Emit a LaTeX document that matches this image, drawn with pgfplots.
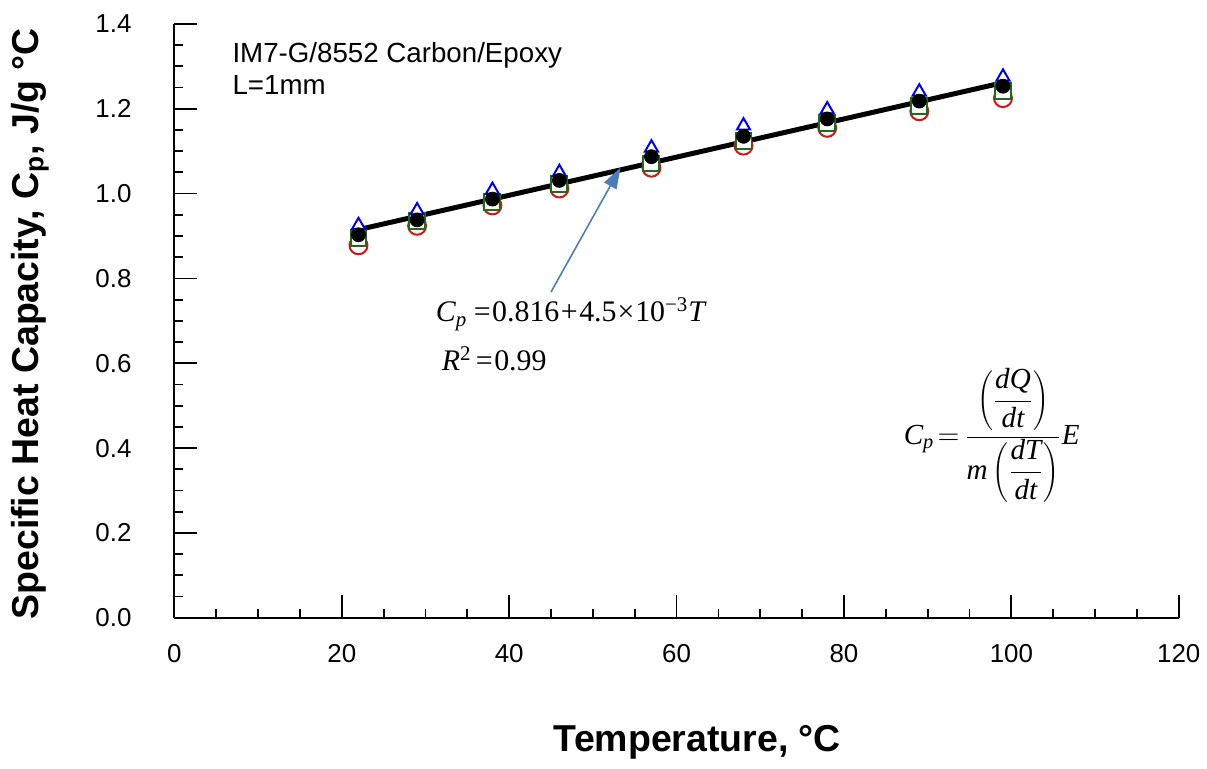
\documentclass[border=0pt]{standalone}
\usepackage{fontspec}
\setmainfont{Liberation Sans}
\newfontfamily\tnr{Liberation Serif}
\usepackage{pgfplots}
\pgfplotsset{compat=1.18}
\usetikzlibrary{arrows.meta}
\definecolor{arrowblue}{HTML}{4A7EBB}
\definecolor{mkgreen}{HTML}{1E6B1E}
\definecolor{mkred}{HTML}{E01010}
\definecolor{mkblue}{HTML}{0000F0}
\begin{document}
\begin{tikzpicture}
\begin{axis}[
  at={(0,0)}, anchor=south west,
  scale only axis, width=504pt, height=298pt,
  xmin=0, xmax=120, ymin=0, ymax=1.4,
  axis x line*=bottom, axis y line*=left,
  axis line style={line width=1pt},
  xtick={0,20,40,60,80,100,120}, minor x tick num=3,
  ytick={0,0.2,0.4,0.6,0.8,1.0,1.2,1.4}, minor y tick num=3,
  tick align=inside,
  major tick length=11.5pt, minor tick length=4.5pt,
  every tick/.style={black, line width=0.9pt},
  tick label style={font=\fontsize{13}{15}\selectfont},
  /pgf/number format/assume math mode=true,
  yticklabel style={/pgf/number format/.cd, fixed, fixed zerofill, precision=1, /tikz/.cd, xshift=-18pt},
  xticklabel style={yshift=-10pt},
  xlabel={Temperature, °C},
  ylabel={Specific Heat Capacity, C\textsubscript{p}, J/g °C},
  xlabel style={font=\fontsize{18.8}{21}\selectfont\bfseries, at={(axis description cs:0.5208,-0.21)}, anchor=center},
  ylabel style={font=\fontsize{18.8}{21}\selectfont\bfseries, at={(axis description cs:-0.1439,0.495)}, anchor=center},
  clip=false,
]
\addplot[only marks, mark=o, mark size=4.5pt, mark options={draw=mkred, line width=1pt}]
  coordinates {(22,0.878) (29,0.924) (38,0.972) (46,1.012) (57,1.061) (68,1.113) (78,1.155) (89,1.194) (99,1.225)};
\addplot[only marks, mark=square*, mark size=4pt, mark options={draw=mkgreen, fill=white, line width=1pt}]
  coordinates {(22,0.895) (29,0.935) (38,0.980) (46,1.022) (57,1.071) (68,1.124) (78,1.167) (89,1.206) (99,1.241)};
\addplot[only marks, mark=triangle*, mark size=3.8pt, mark options={draw=mkblue, fill=white, line width=1pt}]
  coordinates {(22,0.925) (29,0.960) (38,1.008) (46,1.050) (57,1.108) (68,1.160) (78,1.198) (89,1.240) (99,1.275)};
\addplot[black, line width=2.5pt, no marks] coordinates {(22,0.915) (99,1.2615)};
\addplot[only marks, mark=*, mark size=3.5pt, mark options={draw=black, fill=black}]
  coordinates {(22,0.903) (29,0.938) (38,0.987) (46,1.031) (57,1.087) (68,1.135) (78,1.176) (89,1.218) (99,1.253)};
\draw[arrowblue, line width=0.8pt, -{Triangle[length=10.5pt, width=7pt]}] (axis cs:45.0,0.768) -- (axis cs:53.3,1.061);
\node[anchor=base west, inner sep=0pt, font=\fontsize{13.9}{15}\selectfont] at (axis cs:6.9,1.308) {IM7-G/8552 Carbon/Epoxy};
\node[anchor=base west, inner sep=0pt, font=\fontsize{13.9}{15}\selectfont] at (axis cs:6.9,1.233) {L=1mm};
\node[anchor=base west, inner sep=0pt, font=\tnr\fontsize{15}{18}\selectfont] at (axis cs:31.19,0.6977)
  {\itshape C\textsubscript{p}\upshape\hspace{0.22em}=\hspace{0.05em}0.816\hspace{0.05em}+\hspace{0.05em}4.5\hspace{0.03em}×\hspace{0.03em}10\textsuperscript{−3}\itshape T};
\node[anchor=base west, inner sep=0pt, font=\tnr\fontsize{15}{18}\selectfont] at (axis cs:31.9,0.5826)
  {\itshape R\textsuperscript{\upshape 2}\upshape\hspace{0.15em}=\hspace{0.05em}0.99};
\node[anchor=west, inner sep=0pt, font=\tnr\fontsize{14.6}{17}\selectfont] at (axis cs:87.1,0.4263)
  {$\hbox{\itshape C\textsubscript{p}}\mkern2mu{=}\mkern3mu{\displaystyle\frac{\left(\vrule height 17pt depth 13pt width 0pt{\displaystyle\frac{\hbox{\itshape dQ}}{\hbox{\itshape dt}}}\right)}{\hbox{\itshape m}\left(\vrule height 17pt depth 13pt width 0pt{\displaystyle\frac{\hbox{\itshape dT}}{\hbox{\itshape dt}}}\right)}}\hbox{\itshape E}$};
\end{axis}
\path (-87.5pt,-75.5pt) rectangle (516pt,310pt);
\end{tikzpicture}
\end{document}
